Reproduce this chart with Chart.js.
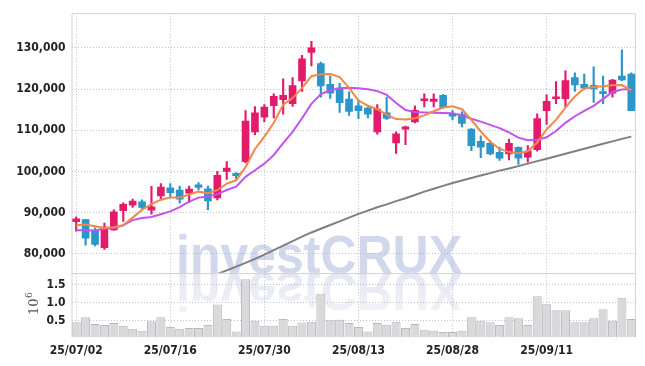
<!DOCTYPE html>
<html lang="en">
<head>
<meta charset="UTF-8">
<title>investCRUX candles</title>
<script src="https://cdn.jsdelivr.net/npm/chart.js"></script>
<style>
  html, body { margin: 0; padding: 0; background: #fff; }
  #wrap { width: 645px; height: 366px; }
</style>
</head>
<body>
<div id="wrap"><canvas id="chart"></canvas></div>
<script>
const dates = [
  '25/07/02','25/07/03','25/07/04','25/07/07','25/07/08','25/07/09','25/07/10','25/07/11','25/07/14','25/07/15',
  '25/07/16','25/07/17','25/07/18','25/07/21','25/07/22','25/07/23','25/07/24','25/07/25','25/07/28','25/07/29',
  '25/07/30','25/07/31','25/08/01','25/08/04','25/08/05','25/08/06','25/08/07','25/08/08','25/08/11','25/08/12',
  '25/08/13','25/08/14','25/08/18','25/08/19','25/08/20','25/08/21','25/08/22','25/08/25','25/08/26','25/08/27',
  '25/08/28','25/08/29','25/09/01','25/09/02','25/09/03','25/09/04','25/09/05','25/09/08','25/09/09','25/09/10',
  '25/09/11','25/09/12','25/09/15','25/09/16','25/09/17','25/09/18','25/09/19','25/09/22','25/09/23','25/09/24'
];

const open = [
  87800, 88300, 85700, 81500, 85800, 90500, 91800, 92600, 90600, 94050,
  96050, 95500, 94700, 96750, 95800, 93550, 100000, 99550, 102400, 109600,
  113200, 115950, 117400, 116450, 121950, 128900, 126150, 121150, 120200, 117550,
  115900, 115400, 109600, 114200, 106950, 110250, 112000, 117150, 117000, 118500,
  113700, 113950, 110300, 107300, 106800, 104650, 104250, 105850, 103450, 105300,
  114750, 117650, 117650, 122800, 121150, 120900, 119400, 119000, 123150, 123600
];
const high = [
  89000, 88400, 86300, 87500, 90700, 92400, 93300, 93100, 96400, 97050,
  97050, 96450, 96450, 97300, 96450, 100000, 102400, 99700, 114750, 115750,
  116200, 118850, 122500, 122800, 128150, 131600, 126550, 123150, 121400, 119300,
  117400, 115650, 116200, 118050, 109600, 111000, 115950, 118850, 118850, 118700,
  114800, 114450, 110400, 108650, 107450, 105850, 107850, 106000, 106250, 114000,
  118600, 121800, 124400, 123950, 123600, 125400, 123150, 122350, 129500, 123950
];
const low = [
  85500, 82100, 81900, 81100, 85700, 87900, 91300, 90850, 89650, 93100,
  93700, 92300, 92450, 95500, 90700, 93100, 98050, 98050, 102100, 108950,
  112000, 113000, 113900, 115800, 119400, 125600, 118050, 117700, 114350, 113600,
  112800, 113000, 109050, 112600, 104400, 106500, 111800, 115650, 115650, 115350,
  112500, 110800, 105050, 103350, 104000, 102650, 102800, 101700, 102250, 104900,
  111400, 116450, 115650, 119400, 119950, 116750, 116450, 118050, 122050, 114750
];
const close = [
  88500, 83800, 82300, 86500, 90200, 92000, 92800, 91250, 91400, 96200,
  94850, 93250, 95700, 96100, 92850, 99050, 100800, 99000, 112200, 114200,
  115650, 118200, 118500, 120850, 127350, 130000, 120750, 119000, 116700, 114550,
  114750, 113900, 115150, 112850, 109100, 110800, 114850, 117350, 117550, 115500,
  113400, 111650, 106250, 105900, 104250, 103200, 106800, 103200, 104950, 112800,
  117000, 118050, 122050, 121000, 120200, 120050, 118850, 122200, 122200, 114750
];

const maShort = [
  86950, 87100, 86700, 86300, 86450, 86950, 88800, 90700, 92100, 93150,
  93650, 93650, 94400, 95100, 94700, 95450, 97050, 97850, 101050, 105450,
  108450, 111800, 116200, 117800, 120200, 123100, 123600, 123650, 122900, 120300,
  117200, 115950, 115100, 113800, 112700, 112600, 112900, 113600, 114600, 115500,
  115800, 115100, 112500, 109700, 107200, 105500, 104700, 104400, 104900, 107000,
  110200, 112500, 115500, 118200, 120150, 120500, 120700, 120900, 120950, 119700
];
const maMid = [
  85750, 85750, 85700, 86150, 86300, 86950, 88200, 88700, 88950, 89600,
  90300, 91350, 92700, 93650, 93900, 94500, 95500, 96300, 98700, 100300,
  101900, 104000, 106900, 109600, 112900, 116400, 118800, 119700, 120200, 120300,
  120200, 119950, 119500, 118600, 116600, 114900, 114400, 114300, 114250, 114200,
  114150, 113600, 112800, 112100, 111300, 110500, 109500, 108200, 107600, 107700,
  108300, 109800, 111800, 113400, 114700, 115900, 117600, 119300, 119900, 120000
];
const maLong = [
  null, null, null, null, null, null, null, null, null, null,
  null, null, null, null, 74200, 75100, 76000, 76900, 77800, 78800,
  79800, 80900, 82000, 83100, 84200, 85200, 86100, 87000, 87900, 88800,
  89700, 90500, 91300, 92000, 92800, 93500, 94300, 95100, 95800, 96500,
  97200, 97800, 98400, 99000, 99600, 100200, 100700, 101300, 101900, 102500,
  103100, 103700, 104300, 104900, 105500, 106100, 106700, 107300, 107900, 108450
];

// volume in millions of shares
const volume = [
  0.46, 0.60, 0.41, 0.38, 0.44, 0.36, 0.28, 0.22, 0.49, 0.60,
  0.33, 0.28, 0.30, 0.30, 0.38, 0.95, 0.55, 0.20, 1.65, 0.50,
  0.36, 0.36, 0.55, 0.36, 0.45, 0.47, 1.25, 0.53, 0.53, 0.44,
  0.33, 0.20, 0.44, 0.39, 0.47, 0.30, 0.41, 0.25, 0.22, 0.19,
  0.19, 0.22, 0.60, 0.50, 0.46, 0.38, 0.60, 0.57, 0.38, 1.18,
  0.96, 0.79, 0.79, 0.46, 0.46, 0.57, 0.82, 0.50, 1.14, 0.55
];

const priceTicks = [80000, 90000, 100000, 110000, 120000, 130000];
const volumeTicks = [0.5, 1.0, 1.5];

const UP = '#e31b6b';
const DOWN = '#2c95c9';
const GRID = 'rgba(165,170,205,0.75)';
const FRAME = '#d2d3da';
const tickFont = { family: '"DejaVu Sans Condensed", "DejaVu Sans", sans-serif', weight: 'bold', size: 12 };

const candleColors = open.map((o, i) => close[i] >= o ? UP : DOWN);

const framePlugin = {
  id: 'frame',
  beforeDraw(chart) {
    const { ctx, chartArea: a, scales } = chart;
    const base = scales.y.bottom;
    ctx.save();
    ctx.beginPath();
    ctx.rect(a.left, a.top, a.right - a.left, a.bottom - a.top);
    ctx.clip();
    ctx.font = 'bold 54px "Liberation Sans"';
    const w = ctx.measureText('investCRUX').width;
    ctx.translate(176, base);
    ctx.scale(286 / w, 1);
    ctx.fillStyle = '#d2d8ec';
    ctx.fillText('investCRUX', 0, 0);
    // reflection
    ctx.scale(1, -1);
    const g = ctx.createLinearGradient(0, 0, 0, -42);
    g.addColorStop(0, '#e4e7f2');
    g.addColorStop(1, '#f2f3f8');
    ctx.fillStyle = g;
    ctx.fillText('investCRUX', 0, 0);
    ctx.restore();
  },
  beforeDatasetsDraw(chart) {
    const { ctx, chartArea: a, scales } = chart;
    ctx.save();
    ctx.strokeStyle = FRAME;
    ctx.lineWidth = 1;
    ctx.beginPath();
    ctx.moveTo(a.left + 0.5, a.bottom);
    ctx.lineTo(a.left + 0.5, a.top + 0.5);
    ctx.lineTo(a.right - 0.5, a.top + 0.5);
    ctx.lineTo(a.right - 0.5, a.bottom);
    const sep = Math.round(scales.yv.top) + 0.5;
    ctx.moveTo(a.left, sep);
    ctx.lineTo(a.right, sep);
    ctx.stroke();
    ctx.restore();
  },
  afterDraw(chart) {
    const { ctx, scales } = chart;
    const yv = scales.yv;
    const cy = (yv.top + yv.bottom) / 2;
    ctx.save();
    ctx.translate(38, cy);
    ctx.rotate(-Math.PI / 2);
    ctx.fillStyle = '#555';
    ctx.textBaseline = 'alphabetic';
    ctx.font = '13px "DejaVu Serif"';
    ctx.fillText('10', -10, 0);
    ctx.font = '9px "DejaVu Serif"';
    ctx.fillText('6', 7, -6);
    ctx.restore();
  }
};

new Chart(document.getElementById('chart'), {
  type: 'bar',
  data: {
    labels: dates,
    datasets: [
      {
        type: 'line', label: 'MA short', data: maShort, yAxisID: 'y',
        borderColor: '#f0884a', borderWidth: 2, pointRadius: 0, order: 0
      },
      {
        type: 'line', label: 'MA mid', data: maMid, yAxisID: 'y',
        borderColor: '#c352f0', borderWidth: 2, pointRadius: 0, order: 0
      },
      {
        type: 'line', label: 'MA long', data: maLong, yAxisID: 'y',
        borderColor: '#7f7f7f', borderWidth: 2, pointRadius: 0, order: 0
      },
      {
        label: 'body', data: open.map((o, i) => [o, close[i]]), yAxisID: 'y',
        backgroundColor: candleColors, barThickness: 7, minBarLength: 2,
        grouped: false, order: 1
      },
      {
        label: 'wick', data: low.map((l, i) => [l, high[i]]), yAxisID: 'y',
        backgroundColor: candleColors, barThickness: 1.5,
        grouped: false, order: 2
      },
      {
        label: 'volume', data: volume, yAxisID: 'yv',
        backgroundColor: '#d9d9db', borderColor: '#b9b9bd', borderWidth: 1,
        barPercentage: 0.96, categoryPercentage: 1, grouped: false, order: 3
      }
    ]
  },
  options: {
    responsive: true,
    maintainAspectRatio: false,
    animation: false,
    layout: { padding: { top: 9, right: 9, left: 0, bottom: 0 } },
    plugins: { legend: { display: false }, tooltip: { enabled: false } },
    scales: {
      x: {
        type: 'category',
        offset: true,
        grid: {
          offset: false,
          drawTicks: false,
          color: c => (c.index % 10 === 0 ? GRID : 'transparent')
        },
        border: { display: false, dash: [1, 2] },
        ticks: {
          autoSkip: false, maxRotation: 0, padding: 7,
          color: '#222', font: tickFont,
          callback: (v, i) => (i % 10 === 0 ? dates[i] : '')
        },
        afterFit: s => { s.height = 29; }
      },
      yv: {
        position: 'left', stack: 'panes', stackWeight: 65,
        min: 0.05, max: 1.83,
        afterBuildTicks: s => { s.ticks = volumeTicks.map(v => ({ value: v })); },
        grid: { color: GRID, drawTicks: false },
        border: { display: false, dash: [1, 2] },
        ticks: { padding: 6, color: '#222', font: tickFont, callback: v => v.toFixed(1) },
        afterFit: s => { s.width = 71.5; }
      },
      y: {
        position: 'left', stack: 'panes', stackWeight: 263,
        min: 75400, max: 138400,
        afterBuildTicks: s => { s.ticks = priceTicks.map(v => ({ value: v })); },
        grid: { color: GRID, drawTicks: false },
        border: { display: false, dash: [1, 2] },
        ticks: { padding: 6, color: '#222', font: tickFont, callback: v => v.toLocaleString('en-US') },
        afterFit: s => { s.width = 71.5; }
      }
    }
  },
  plugins: [framePlugin]
});
</script>
</body>
</html>
